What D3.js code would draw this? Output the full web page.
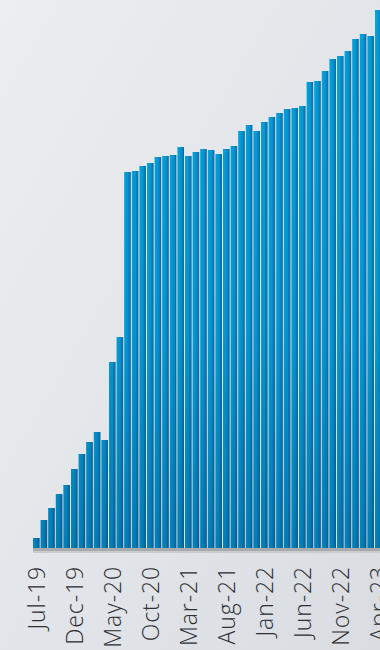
<!DOCTYPE html>
<html>
<head>
<meta charset="utf-8">
<script src="https://cdn.jsdelivr.net/npm/d3@7"></script>
<style>
  html, body { margin: 0; padding: 0; overflow: hidden; }
  body { width: 380px; height: 650px; }
</style>
</head>
<body>
<svg id="chart" width="380" height="650"></svg>
<script>
// Monthly series, Jul-19 through Apr-23
const months = [
  "Jul-19","Aug-19","Sep-19","Oct-19","Nov-19","Dec-19",
  "Jan-20","Feb-20","Mar-20","Apr-20","May-20","Jun-20",
  "Jul-20","Aug-20","Sep-20","Oct-20","Nov-20","Dec-20",
  "Jan-21","Feb-21","Mar-21","Apr-21","May-21","Jun-21",
  "Jul-21","Aug-21","Sep-21","Oct-21","Nov-21","Dec-21",
  "Jan-22","Feb-22","Mar-22","Apr-22","May-22","Jun-22",
  "Jul-22","Aug-22","Sep-22","Oct-22","Nov-22","Dec-22",
  "Jan-23","Feb-23","Mar-23","Apr-23"
];
const values = [
  10, 28, 40, 54, 63, 79, 94, 106, 116, 108, 186, 211,
  376, 377, 382, 385, 391, 392, 393, 401, 392, 396, 399, 398,
  394, 399, 402, 417, 423, 417, 426, 431, 435, 439, 440, 442,
  466, 467, 477, 489, 492, 497, 509, 514, 512, 538
];
// Axis labels every fifth month
const tickLabels = ["Jul-19","Dec-19","May-20","Oct-20","Mar-21","Aug-21","Jan-22","Jun-22","Nov-22","Apr-23"];

const data = months.map((m, i) => ({ month: m, value: values[i] }));

const svg = d3.select("#chart");
const defs = svg.append("defs");

// Page background
const bg = defs.append("linearGradient").attr("id", "bg")
  .attr("x1", 0).attr("y1", 0).attr("x2", 1).attr("y2", 1);
bg.append("stop").attr("offset", 0).attr("stop-color", "#eceef1");
bg.append("stop").attr("offset", 1).attr("stop-color", "#d9dde2");
svg.append("rect").attr("width", 380).attr("height", 650).attr("fill", "url(#bg)");

// Bar fill: cyan on the left fading to deep blue on the right
const barGrad = defs.append("linearGradient").attr("id", "barGrad")
  .attr("x1", 0).attr("y1", 0).attr("x2", 1).attr("y2", 0);
barGrad.append("stop").attr("offset", 0).attr("stop-color", "#02a6dd");
barGrad.append("stop").attr("offset", 0.55).attr("stop-color", "#0696d0");
barGrad.append("stop").attr("offset", 1).attr("stop-color", "#1168a6");

// Darkening toward the baseline
const shade = defs.append("linearGradient").attr("id", "shade")
  .attr("gradientUnits", "userSpaceOnUse")
  .attr("x1", 0).attr("y1", 0).attr("x2", 0).attr("y2", 548);
shade.append("stop").attr("offset", 0).attr("stop-color", "#002050").attr("stop-opacity", 0);
shade.append("stop").attr("offset", 0.6).attr("stop-color", "#002050").attr("stop-opacity", 0.05);
shade.append("stop").attr("offset", 1).attr("stop-color", "#002050").attr("stop-opacity", 0.25);

const baseY = 548;
const x = d3.scaleBand()
  .domain(months)
  .range([32.5, 32.5 + 46 * 7.6])
  .paddingInner(0.13)
  .paddingOuter(0.065);

const y = d3.scaleLinear().domain([0, 540]).range([baseY, baseY - 540]);

const bars = svg.append("g");
bars.selectAll("rect.bar")
  .data(data)
  .join("rect")
  .attr("class", "bar")
  .attr("x", d => x(d.month))
  .attr("y", d => y(d.value))
  .attr("width", x.bandwidth())
  .attr("height", d => baseY - y(d.value))
  .attr("fill", "url(#barGrad)");
bars.selectAll("rect.shade")
  .data(data)
  .join("rect")
  .attr("class", "shade")
  .attr("x", d => x(d.month))
  .attr("y", d => y(d.value))
  .attr("width", x.bandwidth())
  .attr("height", d => baseY - y(d.value))
  .attr("fill", "url(#shade)");

// Baseline strip
svg.append("rect")
  .attr("x", x(months[0]))
  .attr("y", baseY)
  .attr("width", 400)
  .attr("height", 3)
  .attr("fill", "#a9aaac");
svg.append("rect")
  .attr("x", x(months[0]))
  .attr("y", baseY + 3)
  .attr("width", 400)
  .attr("height", 2)
  .attr("fill", "#c9cbce");

// Bottom axis with rotated month labels
const axis = d3.axisBottom(x)
  .tickValues(tickLabels)
  .tickSize(0)
  .tickPadding(0);

const gAxis = svg.append("g")
  .attr("transform", `translate(0, ${baseY})`)
  .call(axis);
gAxis.select(".domain").remove();
gAxis.selectAll("text")
  .attr("transform", "rotate(-90)")
  .attr("x", -18)
  .attr("y", 0)
  .attr("dy", "0.36em")
  .attr("text-anchor", "end")
  .attr("fill", "#2e2e33")
  .style("font-family", "'Open Sans', sans-serif")
  .style("font-weight", "300")
  .style("font-size", "23px")
  .style("letter-spacing", "0.9px");
</script>
</body>
</html>
